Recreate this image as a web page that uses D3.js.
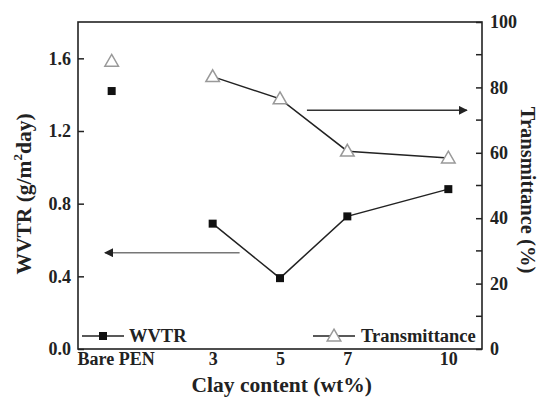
<!DOCTYPE html>
<html>
<head>
<meta charset="utf-8">
<script src="https://cdn.jsdelivr.net/npm/d3@7"></script>
<style>
  body { margin: 0; background: #fff; }
</style>
</head>
<body>
<div id="chart"></div>
<script>
// Chart data
var categories = ["Bare PEN", "3", "5", "7", "10"];
var clayValues = [0, 3, 5, 7, 10];
var wvtr = [1.42, 0.69, 0.39, 0.73, 0.88];
var transmittance = [88, 83.3, 76.5, 60.5, 58.4];
var leftTicks = [0.0, 0.4, 0.8, 1.2, 1.6];
var rightTicks = [0, 20, 40, 60, 80, 100];
var rightMinor = [10, 30, 50, 70, 90];

var FONT = "'Liberation Serif'";

var width = 540, height = 397;
var margin = { top: 22, right: 58, bottom: 48, left: 78 };
var w = width - margin.left - margin.right;
var h = height - margin.top - margin.bottom;

var svg = d3.select("#chart")
    .append("svg")
    .attr("width", width)
    .attr("height", height);

var g = svg.append("g")
    .attr("transform", "translate(" + margin.left + "," + margin.top + ")");

// Scales
var x = d3.scaleLinear().domain([-1, 11]).range([0, w]);
var yL = d3.scaleLinear().domain([0, 1.8]).range([h, 0]);
var yR = d3.scaleLinear().domain([0, 100]).range([h, 0]);

// Frame
g.append("rect")
    .attr("width", w)
    .attr("height", h)
    .attr("fill", "none")
    .attr("stroke", "#222")
    .attr("stroke-width", 1.6);

// Left axis (ticks inward)
var leftAxis = d3.axisRight(yL).tickValues(leftTicks).tickSize(6).tickFormat(d3.format(".1f"));
var la = g.append("g").call(leftAxis);
la.select(".domain").remove();
la.selectAll("line").attr("stroke", "#222").attr("stroke-width", 1.5);
la.selectAll("text").attr("x", -7).attr("text-anchor", "end").attr("fill", "#222");

// Right axis (ticks inward)
var rightAxis = d3.axisLeft(yR).tickValues(rightTicks).tickSize(6);
var ra = g.append("g").attr("transform", "translate(" + w + ",0)").call(rightAxis);
ra.select(".domain").remove();
ra.selectAll("line").attr("stroke", "#222").attr("stroke-width", 1.5);
ra.selectAll("text").attr("x", 8).attr("text-anchor", "start").attr("fill", "#222");
ra.selectAll(".minor").data(rightMinor).enter().append("line")
    .attr("x1", -6).attr("x2", 0)
    .attr("y1", d => yR(d)).attr("y2", d => yR(d))
    .attr("stroke", "#222").attr("stroke-width", 1.5);

// Bottom axis labels
var xa = g.append("g").attr("transform", "translate(0," + h + ")")
    .call(d3.axisBottom(x).tickValues(clayValues).tickSize(0).tickFormat((d, i) => categories[i]));
xa.select(".domain").remove();
xa.selectAll("text").attr("dy", "0.71em").attr("fill", "#222");
xa.selectAll("text").filter((d, i) => i === 0).attr("dx", 4);

// Tick label font
[la, ra, xa].forEach(a => a.selectAll("text")
    .style("font-family", FONT).style("font-weight", "bold").style("font-size", "18px"));

// Axis titles
svg.append("text")
    .attr("transform", "translate(31,194) rotate(-90)")
    .attr("text-anchor", "middle")
    .attr("fill", "#222")
    .html('WVTR (g/m<tspan dy="-9" style="font-size:13px">2</tspan><tspan dy="9">day)</tspan>');

svg.append("text")
    .attr("class", "rt")
    .attr("transform", "translate(521,190) rotate(90)")
    .attr("text-anchor", "middle")
    .attr("fill", "#222")
    .text("Transmittance (%)");

svg.append("text")
    .attr("x", margin.left + x(5.05))
    .attr("y", 392)
    .attr("text-anchor", "middle")
    .attr("fill", "#222")
    .text("Clay content (wt%)");

// Lines (excluding Bare PEN)
var lineL = d3.line().x(d => x(d[0])).y(d => yL(d[1]));
var lineR = d3.line().x(d => x(d[0])).y(d => yR(d[1]));
var wvtrPts = clayValues.map((c, i) => [c, wvtr[i]]);
var trPts = clayValues.map((c, i) => [c, transmittance[i]]);

g.append("path").datum(wvtrPts.slice(1))
    .attr("d", lineL).attr("fill", "none").attr("stroke", "#222").attr("stroke-width", 1.5);
g.append("path").datum(trPts.slice(1))
    .attr("d", lineR).attr("fill", "none").attr("stroke", "#222").attr("stroke-width", 1.5);

// Markers
var tri = d3.symbol().type(d3.symbolTriangle).size(80);
g.selectAll(".tr").data(trPts).enter().append("path")
    .attr("d", tri)
    .attr("transform", d => "translate(" + x(d[0]) + "," + (yR(d[1]) + 1) + ")")
    .attr("fill", "#fff").attr("stroke", "#999").attr("stroke-width", 1.5);

g.selectAll(".sq").data(wvtrPts).enter().append("rect")
    .attr("x", d => x(d[0]) - 4).attr("y", d => yL(d[1]) - 4)
    .attr("width", 8).attr("height", 8).attr("fill", "#111");

// Arrows
var defs = svg.append("defs");
defs.append("marker").attr("id", "ah")
    .attr("viewBox", "0 0 10 10").attr("refX", 9).attr("refY", 5)
    .attr("markerWidth", 9).attr("markerHeight", 9).attr("markerUnits", "userSpaceOnUse")
    .attr("orient", "auto")
    .append("path").attr("d", "M0,0 L10,5 L0,10 Z").attr("fill", "#222");

g.append("line")
    .attr("x1", x(3.8)).attr("x2", x(-0.2))
    .attr("y1", yL(0.53)).attr("y2", yL(0.53))
    .attr("stroke", "#777").attr("stroke-width", 1.5).attr("marker-end", "url(#ah)");
g.append("line")
    .attr("x1", x(5.8)).attr("x2", x(10.55))
    .attr("y1", yR(73)).attr("y2", yR(73))
    .attr("stroke", "#333").attr("stroke-width", 1.5).attr("marker-end", "url(#ah)");

// Legends
var legY = 336 - margin.top;
g.append("line").attr("x1", 4).attr("x2", 46).attr("y1", legY).attr("y2", legY)
    .attr("stroke", "#222").attr("stroke-width", 1.5);
g.append("rect").attr("x", 21).attr("y", legY - 4).attr("width", 8).attr("height", 8).attr("fill", "#111");
g.append("text").attr("class", "leg").attr("x", 51).attr("y", legY + 6).attr("fill", "#222").text("WVTR");

g.append("line").attr("x1", 235).attr("x2", 277).attr("y1", legY).attr("y2", legY)
    .attr("stroke", "#222").attr("stroke-width", 1.5);
g.append("path").attr("d", tri).attr("transform", "translate(256," + (legY + 1) + ")")
    .attr("fill", "#fff").attr("stroke", "#999").attr("stroke-width", 1.5);
g.append("text").attr("class", "leg").attr("x", 283).attr("y", legY + 6).attr("fill", "#222").text("Transmittance");

// Fonts for titles and legend
svg.selectAll("svg > text")
    .style("font-family", FONT).style("font-weight", "bold").style("font-size", "21.5px");
svg.select("text.rt").style("font-size", "20.5px");
g.selectAll("text.leg")
    .style("font-family", FONT).style("font-weight", "bold").style("font-size", "18.5px");
</script>
</body>
</html>
